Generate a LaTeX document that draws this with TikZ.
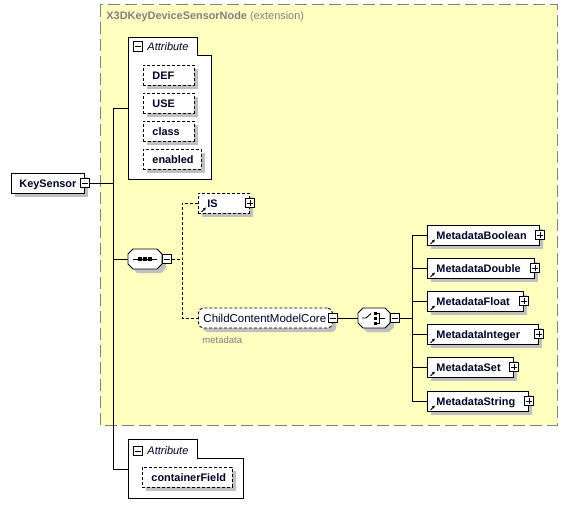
\documentclass[tikz,border=0pt]{standalone}
\usepackage{fontspec}
\setmainfont{Liberation Sans}
\usetikzlibrary{shadows,calc,arrows.meta}
\definecolor{ylw}{RGB}{255,255,192}
\definecolor{shd}{RGB}{192,192,192}
\definecolor{ttl}{RGB}{128,128,128}
\definecolor{lbl}{RGB}{0,0,40}
\newcommand\octpath[3]{({#1-#3+5},{#2-10}) -- ({#1+#3-5},{#2-10}) -- ({#1+#3},{#2-5}) -- ({#1+#3},{#2+5}) -- ({#1+#3-5},{#2+10}) -- ({#1-#3+5},{#2+10}) -- ({#1-#3},{#2+5}) -- ({#1-#3},{#2-5}) -- cycle}
\newcommand\refarrow[1]{\draw[line width=0.9pt,-{Latex[length=3pt,width=3.2pt]}] ([shift={(3.5pt,1.5pt)}]#1.south west) -- ++(4.5pt,4.5pt);}
\begin{document}
\begin{tikzpicture}[x=1pt,y=-1pt,line width=0.9pt,
  elem/.style={draw, fill=white, anchor=west, minimum height=20pt, inner ysep=0pt, inner xsep=9pt,
    text height=10pt, text depth=0.4pt, align=left, text=lbl,
    font=\fontsize{10.9}{13}\selectfont\bfseries,
    general shadow={fill=shd, shadow xshift=4pt, shadow yshift=-4pt}},
  opt/.style={dash pattern=on 3pt off 2pt},
  pmbox/.style={draw, fill=white, minimum size=9.5pt, inner sep=0pt, line width=0.8pt},
  minusbox/.style={pmbox, path picture={\draw[line width=0.8pt] ([xshift=2pt]path picture bounding box.west) -- ([xshift=-2pt]path picture bounding box.east);}},
  plusbox/.style={pmbox, path picture={\draw[line width=0.8pt] ([xshift=2pt]path picture bounding box.west) -- ([xshift=-2pt]path picture bounding box.east) ([yshift=-2pt]path picture bounding box.north) -- ([yshift=2pt]path picture bounding box.south);}},
  conn/.style={line width=0.9pt},
  dconn/.style={line width=0.9pt, dash pattern=on 3pt off 2pt},
  attrlbl/.style={anchor=west, inner sep=0pt, font=\fontsize{11}{13}\selectfont\itshape, text=lbl},
  hub/.style={minimum height=20pt, inner sep=0pt}
]
\useasboundingbox (0,0) rectangle (568,516);

% extension frame
\draw[fill=ylw, draw=ttl, line width=1pt, dash pattern=on 12pt off 5pt] (100,5) rectangle (557,425);
\node[anchor=west, inner sep=0pt, text=ttl, font=\fontsize{10.9}{13}\selectfont] (title) at (106,17)
  {\textbf{X3DKeyDeviceSensorNode} (extension)};

% attribute group 1
\draw[fill=white, line width=0.9pt] (128,37) -- (197,37) -- (197,55) -- (211,55) -- (211,179) -- (128,179) -- cycle;
\node[minusbox] (g1m) at (138,46.5) {};
\node[attrlbl] (g1l) at (147,47) {Attribute};
\coordinate (g1) at (128,108);

\node[elem, opt, text width=33pt] (def) at (143,75) {DEF};
\node[elem, opt, text width=33pt] (use) at (143,103) {USE};
\node[elem, opt, text width=33pt] (cls) at (143,131) {class};
\node[elem, opt, text width=40pt] (en)  at (143,159) {enabled};

% attribute group 2
\draw[fill=white, line width=0.9pt] (128,439) -- (197,439) -- (197,458) -- (243,458) -- (243,498) -- (128,498) -- cycle;
\node[minusbox] (g2m) at (138,451) {};
\node[attrlbl] (g2l) at (147,451) {Attribute};
\coordinate (g2) at (128,469);
\node[elem, opt, text width=72pt] (cf) at (142,477) {containerField};

% root
\node[elem, inner xsep=8pt, text width=57pt] (ks) at (11,183) {KeySensor};
\node[minusbox] (ksm) at (ks.east) {};

% sequence
\fill[shd, shift={(4,4)}] \octpath{145}{259}{17};
\draw[fill=white] \octpath{145}{259}{17};
\node[hub, minimum width=34pt] (seq) at (145,259) {};
\draw[line width=0.9pt] (133,259) -- (157,259);
\foreach \xx in {140,145,150} \fill (\xx-1.6,257.4) rectangle (\xx+1.6,260.6);
\node[minusbox] (seqm) at (167,259) {};

% IS
\node[elem, opt, text width=33pt] (is) at (198,203) {IS};
\node[plusbox] (isp) at (is.east) {};
\refarrow{is}

% ChildContentModelCore
\node[elem, dash pattern=on 3pt off 2pt, rounded corners=5pt, inner xsep=5pt, text width=124pt,
  font=\fontsize{11.5}{13}\selectfont] (ccm) at (198,318) {ChildContentModelCore};
\node[minusbox] (ccmm) at (ccm.east) {};
\node[anchor=west, inner sep=0pt, text=ttl, font=\fontsize{9.5}{11}\selectfont] (mdl) at (202,340) {metadata};

% choice
\fill[shd, shift={(4,4)}] \octpath{374}{318}{16};
\draw[fill=white] \octpath{374}{318}{16};
\node[hub, minimum width=32pt] (ch) at (374,318) {};
\draw[line width=0.9pt] (362,318) -- (366,318) -- (371,313.5);
\foreach \yy in {313,318,323} \fill (373.5,\yy-1.5) rectangle (376.5,\yy+1.5);
\draw[line width=0.9pt] (376,313) -- (379.5,313) -- (379.5,323) -- (376,323) (379.5,318) -- (385,318);
\node[minusbox] (chm) at (395,318) {};

% metadata elements
\node[elem, text width=94pt] (mb) at (427,235) {MetadataBoolean};
\node[elem, text width=89pt] (mdb) at (427,268) {MetadataDouble};
\node[elem, text width=78pt] (mf) at (427,301) {MetadataFloat};
\node[elem, text width=93pt] (mi) at (427,334) {MetadataInteger};
\node[elem, text width=68pt] (mset) at (427,367) {MetadataSet};
\node[elem, text width=83pt] (mstr) at (427,401) {MetadataString};
\foreach \n in {mb,mdb,mf,mi,mset,mstr} {
  \node[plusbox] (\n p) at (\n.east) {};
  \refarrow{\n}
}

% connectors
\coordinate (t1) at (113,108);
\coordinate (t3) at (113,469);
\draw[conn] (t1) -- (t3);
\draw[conn] (ksm.east) -- (ksm.east -| t1);
\draw[conn] (t1) -- (g1);
\draw[conn] (t3) -- (g2);
\draw[conn] (seq.west) -- (seq.west -| t1);

\coordinate (sb) at (182,259);
\draw[dconn] (seqm.east) -- (sb);
\draw[dconn] (is.west) -| (sb) |- (ccm.west);

\draw[conn] (ccmm.east) -- (ch.west);
\coordinate (cb) at (412,318);
\draw[conn] (chm.east) -- (cb);
\draw[conn] (mb.west) -| (cb |- mstr.west) -- (mstr.west);
\foreach \n in {mdb,mf,mi,mset} \draw[conn] (\n.west) -- (\n.west -| cb);
\end{tikzpicture}
\end{document}
